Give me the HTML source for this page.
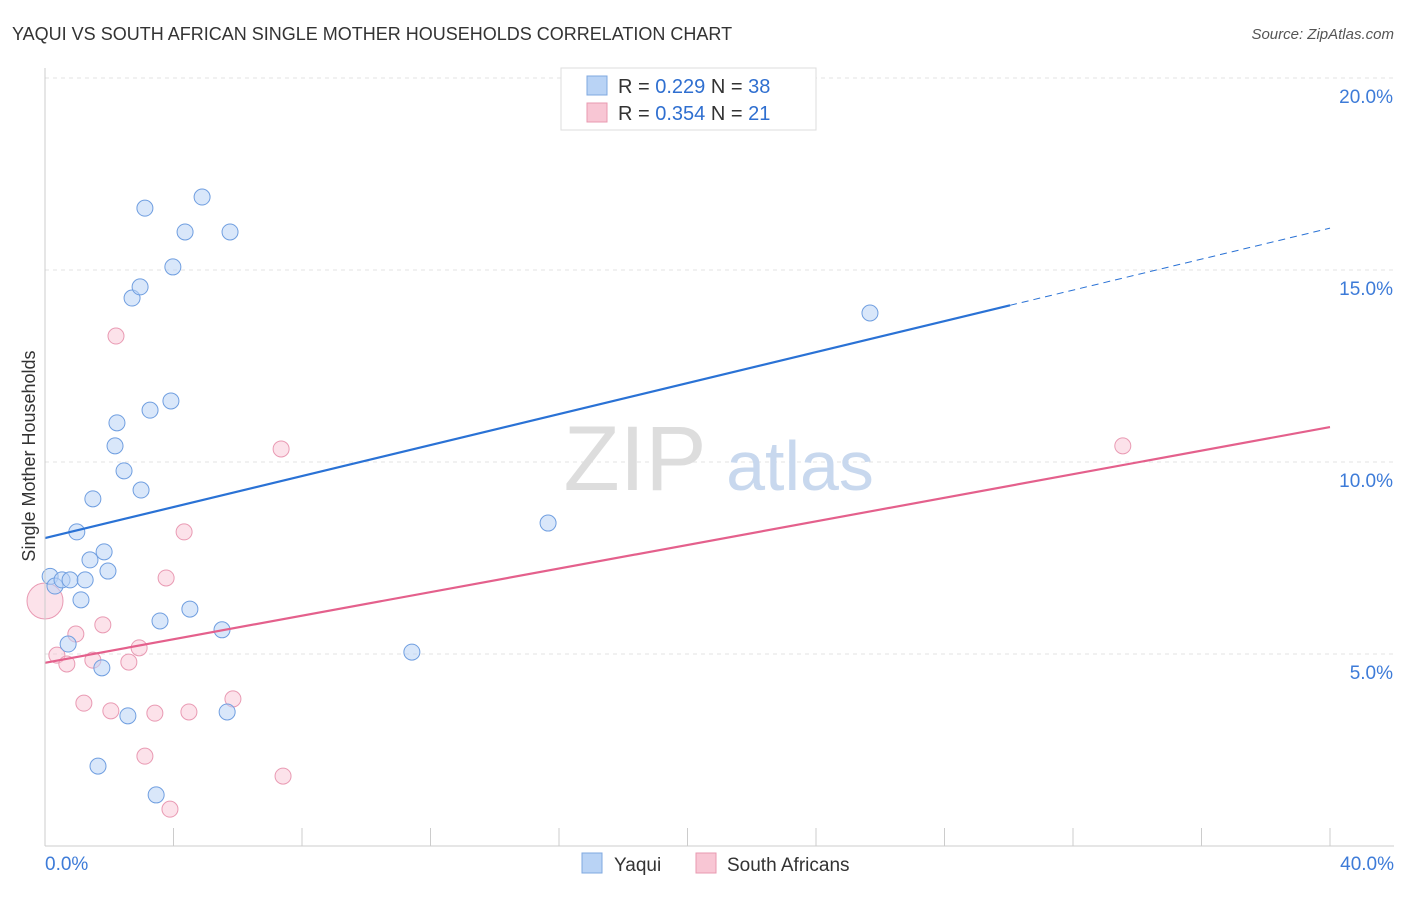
<!DOCTYPE html>
<html><head><meta charset="utf-8"><style>
body{margin:0;background:#fff;font-family:"Liberation Sans",sans-serif}
svg text{font-family:"Liberation Sans",sans-serif}
</style></head><body>
<svg id="c" width="1406" height="892" xmlns="http://www.w3.org/2000/svg">
<text x="12" y="40" font-size="18" fill="#333">YAQUI VS SOUTH AFRICAN SINGLE MOTHER HOUSEHOLDS CORRELATION CHART</text>
<text x="1394" y="39" font-size="15" fill="#555" text-anchor="end" font-style="italic">Source: ZipAtlas.com</text>
<text x="35" y="456" font-size="18" fill="#333" text-anchor="middle" transform="rotate(-90 35 456)">Single Mother Households</text>
<g id="grid"></g>
<g id="wm"><text x="635" y="490" font-size="92" fill="#ddd" text-anchor="middle" font-family="Liberation Serif">ZIP</text><text x="800" y="490" font-size="70" fill="#c8d8ee" text-anchor="middle">atlas</text></g>
<g id="marks"></g>
<g id="axes"></g>
<g>
<rect x="561" y="68" width="255" height="62" fill="#fff" stroke="#ddd"/>
<rect x="587" y="76" width="20" height="19" fill="#b9d3f5" stroke="#7fa8e0"/>
<text x="618" y="93" font-size="20" fill="#333">R = <tspan fill="#2f6fd0">0.229</tspan>   N = <tspan fill="#2f6fd0">38</tspan></text>
<rect x="587" y="103" width="20" height="19" fill="#f8c6d4" stroke="#e89ab0"/>
<text x="618" y="120" font-size="20" fill="#333">R = <tspan fill="#2f6fd0">0.354</tspan>   N = <tspan fill="#2f6fd0"> 21</tspan></text>
</g>
<g>
<rect x="582" y="853" width="20" height="20" fill="#b9d3f5" stroke="#7fa8e0"/>
<text x="614" y="871" font-size="19" fill="#333">Yaqui</text>
<rect x="696" y="853" width="20" height="20" fill="#f8c6d4" stroke="#e89ab0"/>
<text x="727" y="871" font-size="19" fill="#333">South Africans</text>
</g>
</svg>
<script>
const yTicks=[5,10,15,20];
const yTickLabels=["5.0%","10.0%","15.0%","20.0%"];
const xEndLabels=["0.0%","40.0%"];
const yaquiX=[0.16,0.31,0.53,0.78,1.25,1.12,0.72,1.77,1.65,2.58,3.46,3.58,5.67,5.51,4.51,1.96,1.84,1.40,0.99,1.49,2.99,2.46,2.18,2.24,3.27,3.92,2.71,2.96,3.98,4.36,5.76,3.11,4.89,25.68,15.66,11.42];
const yaquiY=[7.02,6.77,6.93,6.93,6.93,6.41,5.26,4.64,2.08,3.39,1.33,5.86,3.49,5.63,6.17,7.16,7.66,7.45,8.18,9.04,9.27,9.77,10.42,11.02,11.35,11.59,14.27,14.56,15.08,15.99,15.99,16.61,16.90,13.88,8.41,5.05];
const saX=[0.0,0.37,0.68,0.96,1.49,1.80,2.61,2.93,1.21,2.05,3.42,4.48,5.85,3.11,3.89,7.41,3.77,4.33,7.35,2.21,33.55];
const saY=[6.38,4.97,4.74,5.52,4.84,5.76,4.79,5.16,3.72,3.52,3.46,3.49,3.83,2.34,0.96,1.82,6.98,8.18,10.34,13.28,10.42];
const blueLine=[8.02,16.09], blueSolidEnd=30.04, pinkLine=[4.77,10.91];
const X=v=>45+v*1285/40, Y=v=>846-v*38.4;
const ns="http://www.w3.org/2000/svg";
function el(t,a,p){const e=document.createElementNS(ns,t);for(const k in a)e.setAttribute(k,a[k]);document.getElementById(p).appendChild(e);return e;}
yTicks.forEach((t,i)=>{
 const l=el('line',{x1:45,x2:1394,y1:Y(t),y2:Y(t),stroke:'#e3e3e3','stroke-dasharray':'4,4'},'grid');
 
 
 const tx=el('text',{x:1393,y:Y(t)+25,'font-size':19,fill:'#3d7bd8','text-anchor':'end'},'axes');tx.textContent=yTickLabels[i];
 
 
});
el('line',{x1:45,x2:45,y1:68,y2:846,stroke:'#ccc'},'axes');
el('line',{x1:45,x2:1394,y1:846,y2:846,stroke:'#ccc'},'axes');
for(let i=1;i<=10;i++){el('line',{x1:X(i*4),x2:X(i*4),y1:828,y2:846,stroke:'#ccc'},'axes');}
let t1=el('text',{x:45,y:870,'font-size':19,fill:'#3d7bd8'},'axes');t1.textContent=xEndLabels[0];


let t2=el('text',{x:1394,y:870,'font-size':19,fill:'#3d7bd8','text-anchor':'end'},'axes');t2.textContent=xEndLabels[1];


saX.forEach((x,i)=>{const c=el('circle',{cx:X(x),cy:Y(saY[i]),r:i==0?18:8,fill:'rgba(248,190,208,0.45)',stroke:'#e99ab3','stroke-width':1},'marks');
 
 });
yaquiX.forEach((x,i)=>{const c=el('circle',{cx:X(x),cy:Y(yaquiY[i]),r:8,fill:'rgba(185,211,245,0.55)',stroke:'#6f9ee0','stroke-width':1},'marks');
 
 });
const bAt=x=>blueLine[0]+(blueLine[1]-blueLine[0])*x/40;
let bl=el('line',{x1:X(0),y1:Y(bAt(0)),x2:X(blueSolidEnd),y2:Y(bAt(blueSolidEnd)),stroke:'#2a72d5','stroke-width':2.2},'marks');


let bd=el('line',{x1:X(blueSolidEnd),y1:Y(bAt(blueSolidEnd)),x2:X(40),y2:Y(bAt(40)),stroke:'#2a72d5','stroke-width':1,'stroke-dasharray':'7,5'},'marks');


let pl=el('line',{x1:X(0),y1:Y(pinkLine[0]),x2:X(40),y2:Y(pinkLine[1]),stroke:'#e4608c','stroke-width':2.2},'marks');


</script>
</body></html>
